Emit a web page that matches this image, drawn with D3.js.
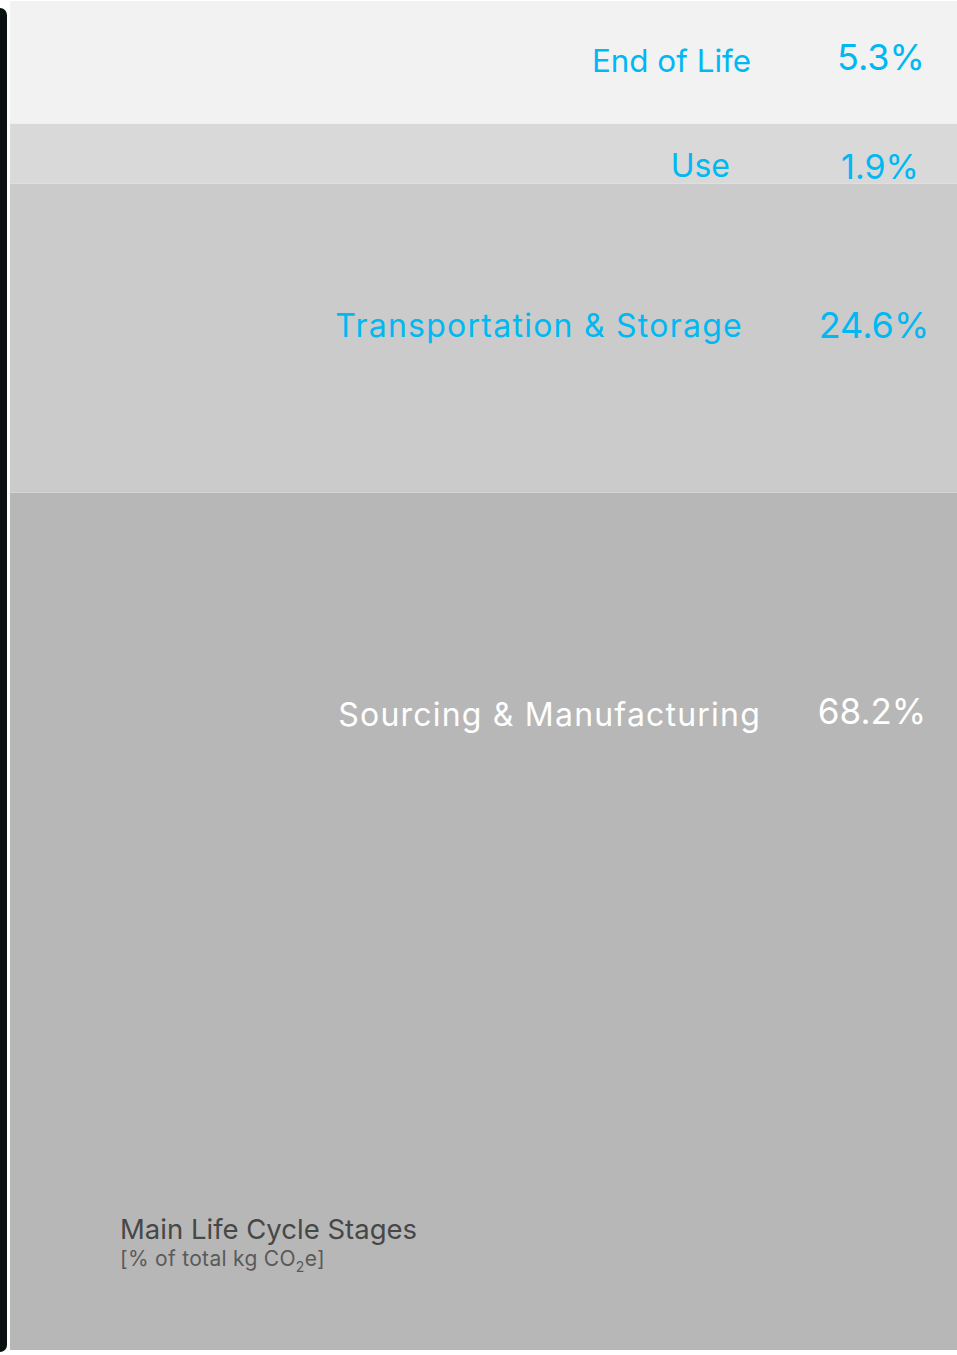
<!DOCTYPE html>
<html lang="en">
<head>
  <meta charset="UTF-8">
  <title>Main Life Cycle Stages</title>
  <script src="https://d3js.org/d3.v7.min.js"></script>
  <style>
    body {
      margin: 0;
      padding: 0;
      background-color: #ffffff;
    }
    #chart {
      display: block;
    }
    text {
      font-family: Inter, "Open Sans", sans-serif;
    }
  </style>
</head>
<body>
  <svg id="chart" width="957" height="1355"></svg>

  <script>
    // stages from bottom to top of the stacked bar
    const stages = ["Sourcing & Manufacturing", "Transportation & Storage", "Use", "End of Life"];
    const shares = [68.2, 24.6, 1.9, 5.3];
    const shareLabels = ["68.2%", "24.6%", "1.9%", "5.3%"];
    const fills = ["#b7b7b7", "#cbcbcb", "#d9d9d9", "#f2f2f2"];

    const width = 957;
    const height = 1355;
    const barLeft = 10;
    const barTop = 1;
    const barBottom = 1350;
    const minBand = 60;

    const svg = d3.select("#chart");

    // px per percent
    const h = d3.scaleLinear().domain([0, 100]).range([0, 1257]);

    // stack from the bottom up, small stages get a minimum band, top one fills the rest
    let cursor = barBottom;
    const rows = stages.map((name, i) => {
      const bottom = cursor;
      const top = i === stages.length - 1 ? barTop : bottom - Math.max(minBand, h(shares[i]));
      cursor = top;
      return { name, value: shares[i], label: shareLabels[i], fill: fills[i], top, bottom };
    });

    // black edge on the left
    svg.append("rect")
      .attr("x", -8)
      .attr("y", 8)
      .attr("width", 15)
      .attr("height", 1344)
      .attr("rx", 7)
      .attr("fill", "#0b1013");

    svg.selectAll(".band")
      .data(rows)
      .enter()
      .append("rect")
      .attr("class", "band")
      .attr("x", barLeft)
      .attr("y", (d) => d.top)
      .attr("width", width - barLeft)
      .attr("height", (d) => d.bottom - d.top)
      .attr("fill", (d) => d.fill);

    // label placement per band (baseline offset from band top, font sizes)
    const labelLayout = [
      { dy: 233, nameRight: 761, size: 32, spacing: 1.2, pctX: 872, pctDy: 231, pctSize: 35, color: "#ffffff" },
      { dy: 153, nameRight: 743, size: 32, spacing: 1.25, pctX: 874, pctDy: 154, pctSize: 36, color: "#00b8f2" },
      { dy: 53, nameRight: 730, size: 32, spacing: 0, pctX: 880, pctDy: 55, pctSize: 34, color: "#00b8f2" },
      { dy: 71, nameRight: 751, size: 31.4, spacing: 0, pctX: 881, pctDy: 69, pctSize: 36, color: "#00b8f2" }
    ];

    svg.selectAll(".stage-name")
      .data(rows)
      .enter()
      .append("text")
      .attr("class", "stage-name")
      .attr("x", (d, i) => labelLayout[i].nameRight)
      .attr("y", (d, i) => d.top + labelLayout[i].dy)
      .style("text-anchor", "end")
      .style("font-size", (d, i) => labelLayout[i].size + "px")
      .style("letter-spacing", (d, i) => labelLayout[i].spacing + "px")
      .attr("fill", (d, i) => labelLayout[i].color)
      .text((d) => d.name);

    svg.selectAll(".stage-share")
      .data(rows)
      .enter()
      .append("text")
      .attr("class", "stage-share")
      .attr("x", (d, i) => labelLayout[i].pctX)
      .attr("y", (d, i) => d.top + labelLayout[i].pctDy)
      .style("text-anchor", "middle")
      .style("font-size", (d, i) => labelLayout[i].pctSize + "px")
      .attr("fill", (d, i) => labelLayout[i].color)
      .text((d) => d.label);

    // caption
    svg.append("text")
      .attr("x", 120)
      .attr("y", 1239)
      .attr("fill", "#474747")
      .style("font-size", "27.5px")
      .text("Main Life Cycle Stages");

    const sub = svg.append("text")
      .attr("x", 120)
      .attr("y", 1266)
      .attr("fill", "#5a5a5a")
      .style("font-size", "21px")
      .style("letter-spacing", "0.3px");
    sub.append("tspan").text("[% of total kg CO");
    sub.append("tspan").attr("dy", 6).style("font-size", "14px").text("2");
    sub.append("tspan").attr("dy", -6).text("e]");
  </script>
</body>
</html>
